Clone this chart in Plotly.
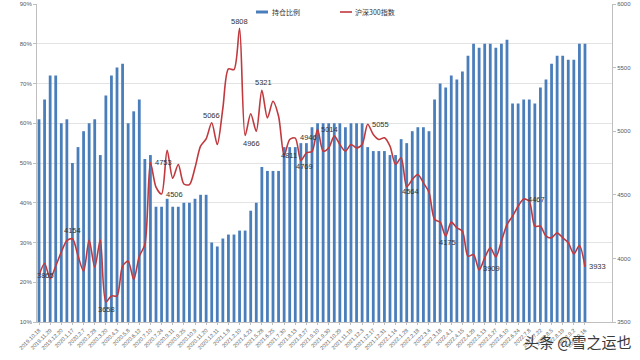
import plotly.graph_objects as go

# ---- data ----
position_pct = [61, 66, 72, 72, 60, 61, 50, 54, 58, 60, 61, 52, 67, 72, 74, 75, 60, 63, 66, 51, 52,
                39, 39, 41, 39, 39, 40, 40, 41, 42, 42, 30, 29, 31, 32, 32, 33,
                33, 38, 40, 49, 48, 48, 48,
                54, 54, 54, 55, 55, 59, 60, 60, 60, 60, 60, 59, 60, 60, 60, 54, 53, 53, 53, 52, 52, 56, 55, 58, 59, 59, 58,
                66, 70, 69, 72, 71, 73, 77, 80, 79, 80, 80, 79, 80, 81, 65, 65, 66, 66, 65, 69, 71, 75, 77, 77, 76, 76, 80, 80]

hs300 = [3865, 3960, 3840, 3940, 4050, 4140, 4154, 4020, 3900, 4145, 3930, 4145, 3658, 3705, 3705, 3939, 3978, 3834, 4017, 4109,
         4753, 4560, 4506, 4850, 4630, 4738, 4585, 4580, 4712, 4882, 4940, 5066, 4895, 5180, 5490, 5485, 5808, 4966, 5137, 5000,
         5321, 5105, 5236, 5118, 4811, 4935, 4946, 4769, 4830, 4840, 5014, 4843, 4869, 4961, 4895, 4843, 4895, 4869, 4895, 5055,
         4974, 4935, 4948, 4882, 4738, 4791, 4564, 4620, 4660, 4594, 4520, 4306, 4285, 4175, 4285, 4240, 4214, 4017, 4030, 3909,
         4004, 4083, 4012, 4135, 4266, 4332, 4410, 4467, 4450, 4253, 4253, 4175, 4162, 4201, 4162, 4123, 4036, 4101, 3933]

tick_labels = ["2019.10.18", "2019.11.29", "2019.12.20", "2020.1.17", "2020.2.7", "2020.2.28", "2020.3.20", "2020.4.3",
               "2020.5.8", "2020.6.12", "2020.7.10", "2020.7.24", "2020.9.11", "2020.9.25", "2020.10.9", "2020.11.20",
               "2020.12.11", "2021.1.8", "2021.2.10", "2021.4.23", "2021.5.28", "2021.6.25", "2021.7.30", "2021.8.13",
               "2021.8.27", "2021.9.10", "2021.9.30", "2021.10.29", "2021.11.19", "2021.12.3", "2021.12.17", "2021.12.31",
               "2022.1.14", "2022.1.28", "2022.2.18", "2022.3.4", "2022.3.18", "2022.4.1", "2022.4.15", "2022.4.29",
               "2022.5.13", "2022.5.27", "2022.6.10", "2022.6.24", "2022.7.8", "2022.7.22", "2022.8.5", "2022.8.19",
               "2022.9.2", "2022.9.16"]

series_names = ["持仓比例", "沪深300指数"]

labeled_points = [0, 6, 12, 20, 22, 31, 36, 37, 40, 44, 46, 47, 50, 59, 66, 73, 79, 87, 98]

# label placement (style, not data)
placement = {0: (6, 0), 6: (0, 8), 12: (1, -8), 20: (13, 0), 22: (13, 0), 31: (0, 7), 36: (0, 7),
             37: (6, -8), 40: (2, 8), 44: (5, 0), 46: (13, 1), 47: (4, -6), 50: (12, 0), 59: (13, 0),
             66: (4, -5), 73: (2, -6), 79: (12, 1), 87: (13, 0), 98: (13, 0)}

BAR_COLOR = "#4A7EBB"
LINE_COLOR = "#C0393E"
L, R, T, B = 37, 612, 4, 322


def px_x(px):
    return (px - L) / (R - L)


def px_y(py):
    return (B - py) / (B - T)


x = list(range(len(position_pct)))
tickvals = list(range(0, len(position_pct), 2))

fig = go.Figure()
fig.add_trace(go.Bar(x=x, y=position_pct, name=series_names[0], marker=dict(color=BAR_COLOR, line_width=0),
                     width=0.5, yaxis="y", showlegend=False))
fig.add_trace(go.Scatter(x=x, y=hs300, name=series_names[1], mode="lines", yaxis="y2", showlegend=False,
                         line=dict(color=LINE_COLOR, width=1.6, shape="spline", smoothing=0.8)))

for i in labeled_points:
    dx, dy = placement[i]
    fig.add_annotation(x=i, y=hs300[i], xref="x", yref="y2", text=str(hs300[i]), showarrow=False,
                       xshift=dx, yshift=dy, font=dict(size=7.5, color="#333333", family="Liberation Sans"))

# manual legend (small swatches like the original)
fig.add_shape(type="rect", xref="paper", yref="paper", x0=px_x(256), x1=px_x(268), y0=px_y(13.5), y1=px_y(10.5),
              fillcolor=BAR_COLOR, line_width=0)
fig.add_annotation(x=px_x(270), y=px_y(12), xref="paper", yref="paper", text=series_names[0], showarrow=False,
                   xanchor="left", yanchor="middle", font=dict(size=7, color="#333333", family="Noto Sans CJK SC"))
fig.add_shape(type="line", xref="paper", yref="paper", x0=px_x(340), x1=px_x(352), y0=px_y(12), y1=px_y(12),
              line=dict(color=LINE_COLOR, width=1.6))
fig.add_annotation(x=px_x(353), y=px_y(12), xref="paper", yref="paper", text=series_names[1], showarrow=False,
                   xanchor="left", yanchor="middle", font=dict(size=7, color="#333333", family="Noto Sans CJK SC"))

fig.add_annotation(x=px_x(634), y=px_y(341), xref="paper", yref="paper",
                   text="头条 @雪之运也", showarrow=False, xanchor="right", yanchor="middle",
                   font=dict(size=15, color="#3a3a3a", family="Noto Sans CJK SC"))

fig.update_layout(
    width=640, height=360,
    margin=dict(l=L, r=640 - R, t=T, b=360 - B, autoexpand=False),
    paper_bgcolor="white", plot_bgcolor="white",
    font=dict(family="Liberation Sans", size=6, color="#595959"),
    bargap=0.5,
    showlegend=False,
    xaxis=dict(range=[-0.36, 102.85], tickmode="array", tickvals=tickvals, ticktext=tick_labels,
               tickangle=-45, tickfont=dict(size=5.5, color="#595959"), showgrid=False,
               showline=True, linecolor="#bfbfbf", ticks="outside", ticklen=2, tickcolor="#bfbfbf",
               zeroline=False, automargin=False),
    yaxis=dict(range=[10, 90], dtick=10, ticksuffix="%", showgrid=True, gridcolor="#e3e3e3",
               gridwidth=1, showline=True, linecolor="#bfbfbf", ticks="outside", ticklen=3,
               tickcolor="#bfbfbf", tickfont=dict(size=6), zeroline=False, automargin=False),
    yaxis2=dict(range=[3500, 6000], dtick=500, overlaying="y", side="right", showgrid=False,
                showline=True, linecolor="#bfbfbf", ticks="outside", ticklen=3, tickcolor="#bfbfbf",
                tickfont=dict(size=6), zeroline=False, automargin=False),
)

fig.write_html("out.html", config={"displayModeBar": False},
               post_script="document.body.style.margin='0px';")
